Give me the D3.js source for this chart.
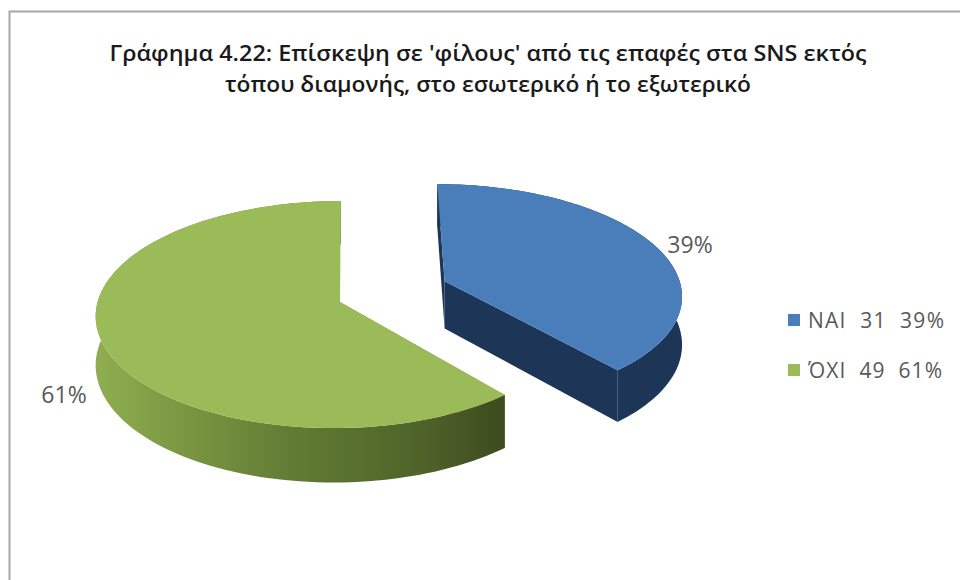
<!DOCTYPE html>
<html lang="el">
<head>
<meta charset="utf-8">
<script src="https://cdn.jsdelivr.net/npm/d3@7/dist/d3.min.js"></script>
<style>
  html, body { margin: 0; padding: 0; background: #fff; }
  svg { display: block; }
</style>
</head>
<body>
<svg id="chart" width="960" height="580"></svg>
<script>
// Chart content
const titleLines = [
  "Γράφημα 4.22: Επίσκεψη σε 'φίλους' από τις επαφές στα SNS εκτός",
  "τόπου διαμονής, στο εσωτερικό ή το εξωτερικό"
];
const titleWidths = [757, 526];
const categories = ["ΝΑΙ", "ΌΧΙ"];
const counts = [31, 49];
const legendWidths = [136, 134];

// Palette per slice
const topColors = ["#4a7ebb", "#9bbb59"];
const wallColors = ["#1d3658", "#7d9a45"];

// Perspective model of the pie plane: slices are projected to the screen
const view = { vx: 370, hy: 294.2, rx: 243, ry: 110.4, p: 0.11, depth: 48 };
const sliceApex = [{ x: 0.311, y: -0.12 }, { x: -0.1225, y: 0.07 }];
const sliceRim = [{ x: 0.311, y: -0.12, r: 0.98 }, { x: -0.1325, y: 0.07, r: 0.98 }];

const project = (X, Y) => {
  const w = 1 - view.p * Y;
  return [view.vx + view.rx * X / w, view.hy + view.ry * Y / w];
};
const extrude = (X, Y) => view.depth / (1 - view.p * Y);

const svg = d3.select("#chart");
const line = d3.line();
const total = d3.sum(counts);
const percent = d3.format(".0%");
const bodyFont = "'Open Sans', 'Noto Sans', sans-serif";

// Chart frame: only the top and left rules
svg.append("path")
  .attr("d", "M9.5,580V11.5H960")
  .attr("fill", "none")
  .attr("stroke", "#a8a8a8")
  .attr("stroke-width", 2);

// Title
svg.append("g").selectAll("text").data(titleLines).join("text")
  .attr("x", 488)
  .attr("y", (d, i) => 61 + i * 31)
  .attr("text-anchor", "middle")
  .attr("font-family", bodyFont)
  .attr("font-weight", 600)
  .attr("font-size", 22)
  .attr("textLength", (d, i) => titleWidths[i])
  .attr("lengthAdjust", "spacingAndGlyphs")
  .attr("fill", "#1a1a1a")
  .text(d => d);

// Wall shading for the long green rim
const defs = svg.append("defs");
const rimGradient = defs.append("linearGradient")
  .attr("id", "rimGreen")
  .attr("gradientUnits", "userSpaceOnUse")
  .attr("x1", 95).attr("x2", 500).attr("y1", 0).attr("y2", 0);
[[0, "#8fae50"], [0.2, "#7c9943"], [0.5, "#617a33"], [0.8, "#4f6429"], [1, "#3e4c1f"]]
  .forEach(([o, c]) => rimGradient.append("stop").attr("offset", o).attr("stop-color", c));

const pie = d3.pie().sort(null).value(d => d);
const slices = pie(counts);

const plot = svg.append("g");
slices.forEach((slice, i) => {
  const a0 = sliceApex[i];
  const c = sliceRim[i];
  const span = slice.endAngle - slice.startAngle;
  const rim = d3.range(0, 121).map(k => {
    const a = slice.startAngle + span * k / 120;
    return { X: c.x + c.r * Math.sin(a), Y: c.y - Math.cos(a) };
  });
  const topRim = rim.map(q => project(q.X, q.Y));
  const lowRim = rim.map(q => {
    const s = project(q.X, q.Y);
    return [s[0], s[1] + extrude(q.X, q.Y)];
  }).reverse();
  const apex = project(a0.x, a0.y);
  const apexLow = [apex[0], apex[1] + extrude(a0.x, a0.y)];
  const wallFill = i === 1 ? "url(#rimGreen)" : wallColors[i];
  const first = topRim[0], last = topRim[120];
  const firstLow = lowRim[120], lastLow = lowRim[0];

  const g = plot.append("g").attr("class", "slice");
  // cut faces, then the outer rim, then the top face
  g.append("path").attr("d", line([apex, first, firstLow, apexLow]) + "Z").attr("fill", wallColors[i]);
  if (i === 0) {
    g.append("path").attr("d", line([apex, last, lastLow, apexLow]) + "Z").attr("fill", wallColors[i]);
  }
  g.append("path").attr("d", line(topRim.concat(lowRim)) + "Z").attr("fill", wallFill);
  g.append("path").attr("d", line([apex].concat(topRim)) + "Z").attr("fill", topColors[i]);
});

// Percentage labels beside each slice
const labelSpots = [[690, 253], [64, 403]];
svg.append("g").selectAll("text").data(slices).join("text")
  .attr("x", (d, i) => labelSpots[i][0])
  .attr("y", (d, i) => labelSpots[i][1])
  .attr("text-anchor", "middle")
  .attr("font-family", bodyFont)
  .attr("font-size", 23)
  .attr("fill", "#595959")
  .text(d => percent(d.value / total));

// Legend
const legend = svg.append("g").selectAll("g").data(categories).join("g")
  .attr("transform", (d, i) => `translate(788,${314 + i * 50})`);
legend.append("rect")
  .attr("width", 12).attr("height", 12)
  .attr("fill", (d, i) => topColors[i]);
legend.append("text")
  .attr("x", 20).attr("y", 14)
  .attr("font-family", bodyFont)
  .attr("font-size", 21)
  .attr("fill", "#595959")
  .attr("textLength", (d, i) => legendWidths[i])
  .attr("lengthAdjust", "spacing")
  .attr("style", "white-space:pre")
  .text((d, i) => `${d}  ${counts[i]}  ${percent(counts[i] / total)}`);
</script>
</body>
</html>
